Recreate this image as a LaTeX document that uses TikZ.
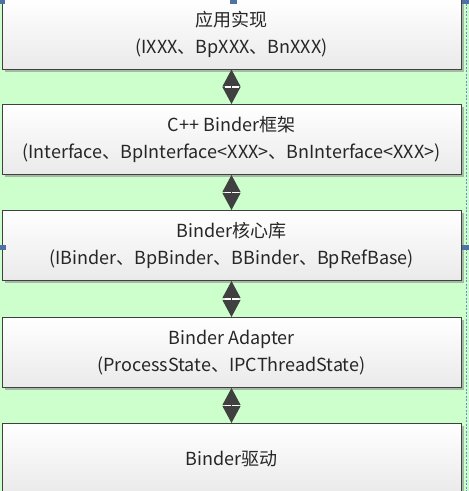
\documentclass[tikz,border=0pt]{standalone}
\usepackage{fontspec}
\setmainfont{Noto Sans CJK SC}
\usetikzlibrary{arrows.meta,shadows,calc}
\definecolor{bg}{RGB}{204,255,204}
\definecolor{edge}{RGB}{64,64,64}
\definecolor{boxbot}{RGB}{234,234,234}
\definecolor{txt}{RGB}{38,38,38}
\definecolor{handle}{RGB}{79,114,163}
\definecolor{selline}{RGB}{110,140,200}
\tikzset{
  layerbox/.style={draw=edge, line width=1pt, top color=white, bottom color=boxbot,
    minimum width=459pt, minimum height=70pt, inner sep=0pt, align=center,
    text=txt, font=\fontsize{18}{27}\selectfont,
    drop shadow={shadow xshift=2.5pt, shadow yshift=-2.5pt, fill=black!45, opacity=0.6}},
  dblarrow/.style={draw=edge, line width=1pt,
    {Triangle[width=18pt,length=17pt]}-{Triangle[width=18pt,length=17pt]}},
  midmark/.style={draw=white, line width=1.6pt},
  midshaft/.style={draw=edge, line width=1.2pt},
  handlebox/.style={fill=handle}
}
\begin{document}
\begin{tikzpicture}[x=1pt,y=1pt]
\fill[bg] (0,0) rectangle (469,-491);
\useasboundingbox (0,0) rectangle (469,-491);
\begin{scope}
\clip (0,0) rectangle (469,-491);
\node[layerbox] (b1) at (231.5,-34) {应用实现\\(IXXX、BpXXX、BnXXX)};
\node[layerbox] (b2) at (231.5,-139.5) {C++ Binder框架\\(Interface、BpInterface<XXX>、BnInterface<XXX>)};
\node[layerbox] (b3) at (231.5,-245.5) {Binder核心库\\(IBinder、BpBinder、BBinder、BpRefBase)};
\node[layerbox] (b4) at (231.5,-352.5) {Binder Adapter\\(ProcessState、IPCThreadState)};
\node[layerbox] (b5) at (231.5,-458.5) {Binder驱动};
\foreach \a/\b in {b1/b2,b2/b3,b3/b4,b4/b5}{
  \draw[dblarrow] (\a.south) -- (\b.north);
  \coordinate (m) at ($(\a.south)!0.5!(\b.north)$);
  \draw[midmark] ($(m)+(-7,0)$) -- ($(m)+(7,0)$);
  \draw[midshaft] ($(m)+(0,-1.5)$) -- ($(m)+(0,1.5)$);
}
\draw[selline, line width=0.6pt, dash pattern=on 2pt off 1.5pt] (466.5,0) -- (466.5,-491);
\fill[handlebox] (0,0) rectangle (5,-3.5);
\fill[handlebox] (230,0) rectangle (237,-3.5);
\fill[handlebox] (462,0) rectangle (469,-3.5);
\fill[handlebox] (0,-244.5) rectangle (6,-250);
\fill[handlebox] (462,-244.5) rectangle (469,-250);
\end{scope}
\end{tikzpicture}
\end{document}
